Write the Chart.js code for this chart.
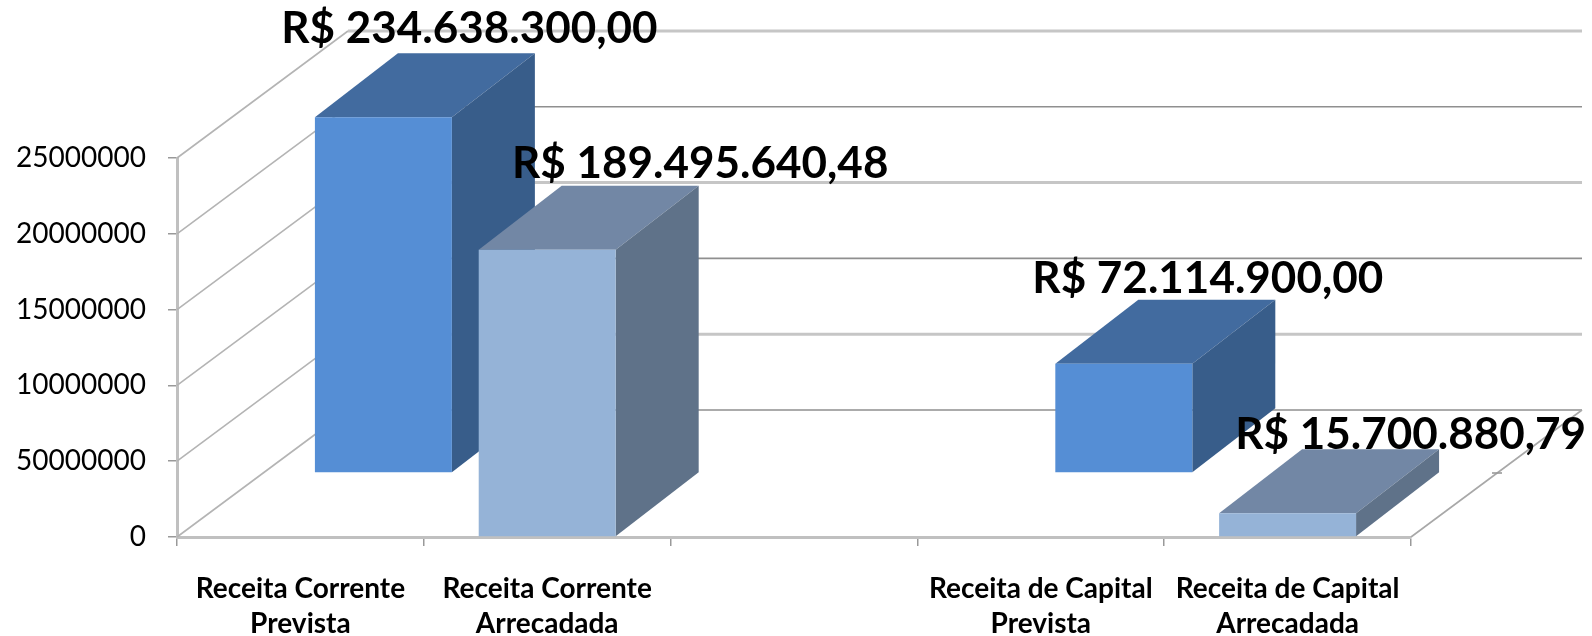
<!DOCTYPE html>
<html><head><meta charset="utf-8">
<style>html,body{margin:0;padding:0;background:#fff}canvas{display:block;filter:blur(0.6px)}</style>
<script src="https://cdn.jsdelivr.net/npm/chart.js@4"></script></head>
<body><canvas id="c" width="1592" height="636"></canvas>
<script>
const categories=[["Receita Corrente","Prevista"],["Receita Corrente","Arrecadada"],"",["Receita de Capital","Prevista"],["Receita de Capital","Arrecadada"]];
const prevista=[234638300,null,null,72114900,null];
const arrecadada=[null,189495640.48,null,null,15700880.79];
const previstaLabels=["R$ 234.638.300,00",null,null,"R$ 72.114.900,00",null];
const arrecadadaLabels=[null,"R$ 189.495.640,48",null,null,"R$ 15.700.880,79"];
const yTickLabels=["0","50000000","10000000","15000000","20000000","25000000"];

const WALL={dx:171,dy:-127}, BAR={dx:83,dy:-64};
const FACES=[{side:"#5F7289",top:"#7287A5"},{side:"#385D8A",top:"#426B9F"}];
const NUDGE=[[ [0,0],[153,-86],[0,0],[0,0],[123,-78] ],[ [86,-88],[0,0],[0,0],[84,-85],[0,0] ]];
function line(ctx,x1,y1,x2,y2,color,w){ctx.strokeStyle=color;ctx.lineWidth=w;ctx.beginPath();ctx.moveTo(x1,y1);ctx.lineTo(x2,y2);ctx.stroke();}
function poly(ctx,pts,color){ctx.fillStyle=color;ctx.beginPath();pts.forEach((p,i)=>i?ctx.lineTo(p[0],p[1]):ctx.moveTo(p[0],p[1]));ctx.closePath();ctx.fill();}

const threeD={id:"threeD",
 beforeDatasetsDraw(chart){
  const {ctx,chartArea:a,scales:{y}}=chart;ctx.save();
  y.ticks.forEach((t,i)=>{const py=y.getPixelForValue(t.value);
    line(ctx,a.left,py,a.left+WALL.dx,py+WALL.dy,"#b4b4b4",1.6);
    line(ctx,a.left+WALL.dx,py+WALL.dy,a.right+WALL.dx,py+WALL.dy,i%2?"#c6c6c6":"#8f8f8f",i%2?3:1.6);
  });
  line(ctx,a.right,a.bottom,a.right+WALL.dx,a.bottom+WALL.dy,"#a8a8a8",1.6);
  line(ctx,a.right+BAR.dx-2,a.bottom+BAR.dy,a.right+BAR.dx+8,a.bottom+BAR.dy,"#999",1.6);
  ctx.restore();
 },
 beforeDatasetDraw(chart,args){
  const ctx=chart.ctx,k=args.index;
  const off=k===1?BAR:{dx:0,dy:0};
  args.meta.data.forEach((b,i)=>{
    const v=chart.data.datasets[k].data[i]; if(v==null)return;
    const L=b.x-b.width/2+off.dx,R=b.x+b.width/2+off.dx,T=b.y+off.dy,B=b.base+off.dy;
    poly(ctx,[[L,T],[R,T],[R+BAR.dx,T+BAR.dy],[L+BAR.dx,T+BAR.dy]],FACES[k].top);
    poly(ctx,[[R,T],[R+BAR.dx,T+BAR.dy],[R+BAR.dx,B+BAR.dy],[R,B]],FACES[k].side);
  });
  ctx.save();
  if(k===1)ctx.translate(BAR.dx,BAR.dy);
 },
 afterDatasetDraw(chart){chart.ctx.restore();},
 afterDatasetsDraw(chart){
  const ctx=chart.ctx;ctx.save();
  ctx.font="bold 44px Lato";ctx.fillStyle="#000";ctx.textAlign="center";ctx.textBaseline="middle";
  [arrecadadaLabels,previstaLabels].forEach((labels,k)=>{
    const meta=chart.getDatasetMeta(k);
    labels.forEach((s,i)=>{ if(!s)return;const b=meta.data[i];
      ctx.fillText(s,b.x+NUDGE[k][i][0]+(k===1?BAR.dx:0),b.y+NUDGE[k][i][1]+(k===1?BAR.dy:0));});
  });
  ctx.restore();
 }
};

new Chart(document.getElementById("c"),{
 type:"bar",
 data:{labels:categories,datasets:[
  {label:"Arrecadada",data:arrecadada,backgroundColor:"#95B3D7",grouped:false,clip:false},
  {label:"Prevista",data:prevista,backgroundColor:"#558ED5",grouped:false,clip:false}
 ]},
 options:{responsive:false,animation:false,
  layout:{padding:{top:158,right:181,left:0,bottom:0}},
  plugins:{legend:{display:false},title:{display:false},tooltip:{enabled:false}},
  datasets:{bar:{categoryPercentage:1,barPercentage:0.555}},
  scales:{
   x:{afterFit(s){s.height=99;},
      border:{color:"#c0c0c0",width:3},
      grid:{drawOnChartArea:false,drawTicks:true,tickLength:9,color:"#999",lineWidth:1.5},
      ticks:{autoSkip:false,maxRotation:0,minRotation:0,color:"#000",padding:25,font:{family:"Lato",weight:"bold",size:28,lineHeight:1.27}}},
   y:{min:0,max:250000000,afterFit(s){s.width=177;},
      border:{color:"#c0c0c0",width:3},
      grid:{drawOnChartArea:false,drawTicks:true,tickLength:9,color:"#999",lineWidth:1.5},
      ticks:{stepSize:50000000,color:"#000",padding:22,font:{family:"Lato",size:28},
        callback(v,i){return yTickLabels[i];}}}
  }},
 plugins:[threeD]
});
</script></body></html>
